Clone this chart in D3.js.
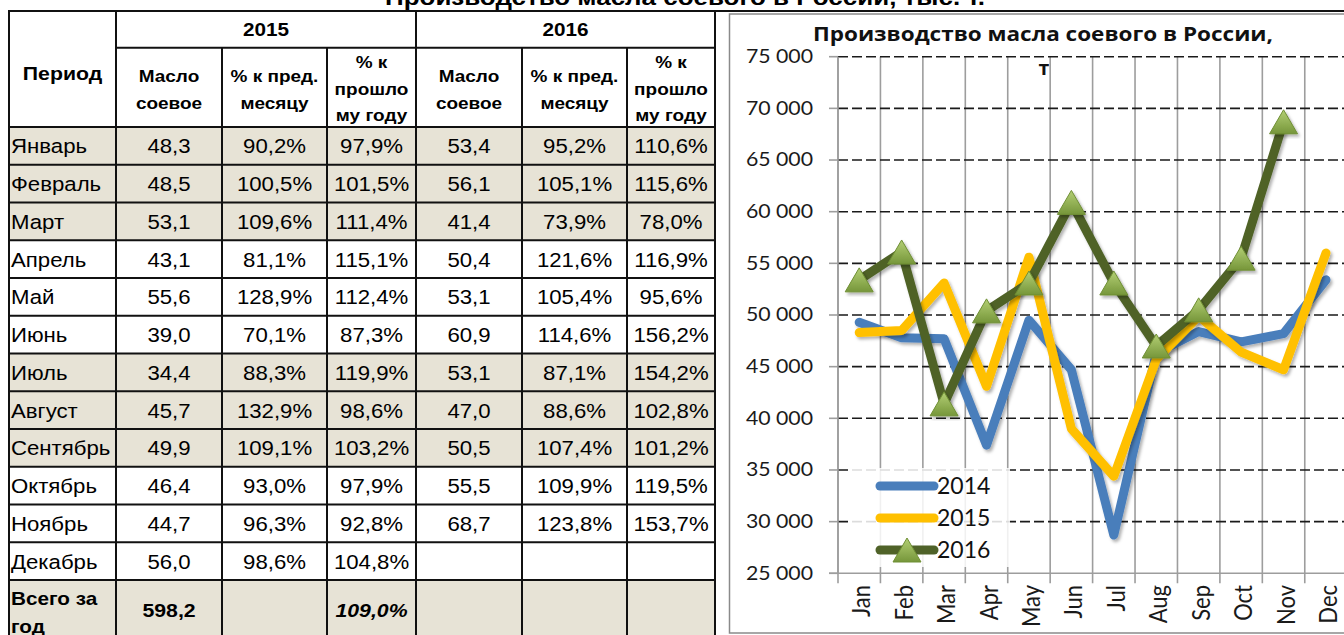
<!DOCTYPE html>
<html><head><meta charset="utf-8">
<script src="https://cdn.jsdelivr.net/npm/d3@7/dist/d3.min.js"></script>
<style>body{margin:0;background:#fff;overflow:hidden}svg{display:block}</style>
</head><body>
<svg id="c" width="1344" height="635"></svg>
<script>
// ---------- DATA ----------
const pageTitle = "Производство масла соевого в России, тыс. т.";
const chartTitle1 = "Производство масла соевого в России,";
const chartTitle2 = "т";
const periods = ["Январь","Февраль","Март","Апрель","Май","Июнь","Июль","Август","Сентябрь","Октябрь","Ноябрь","Декабрь"];
const totalLabel = ["Всего за","год"];
const yearHeaders = ["2015","2016"];
const periodHeader = "Период";
const subHeaders = [["Масло","соевое"],["% к пред.","месяцу"],["% к","прошло","му году"]];
const tbl2015Oil = ["48,3","48,5","53,1","43,1","55,6","39,0","34,4","45,7","49,9","46,4","44,7","56,0"];
const tbl2015Mom = ["90,2%","100,5%","109,6%","81,1%","128,9%","70,1%","88,3%","132,9%","109,1%","93,0%","96,3%","98,6%"];
const tbl2015Yoy = ["97,9%","101,5%","111,4%","115,1%","112,4%","87,3%","119,9%","98,6%","103,2%","97,9%","92,8%","104,8%"];
const tbl2016Oil = ["53,4","56,1","41,4","50,4","53,1","60,9","53,1","47,0","50,5","55,5","68,7",""];
const tbl2016Mom = ["95,2%","105,1%","73,9%","121,6%","105,4%","114,6%","87,1%","88,6%","107,4%","109,9%","123,8%",""];
const tbl2016Yoy = ["110,6%","115,6%","78,0%","116,9%","95,6%","156,2%","154,2%","102,8%","101,2%","119,5%","153,7%",""];
const tblTotals = ["598,2","","109,0%","","",""];

const months = ["Jan","Feb","Mar","Apr","May","Jun","Jul","Aug","Sep","Oct","Nov","Dec"];
const years = ["2014","2015","2016"];
const oil2014 = [49300,47800,47700,37400,49500,44700,28700,46300,48400,47400,48200,53400];
const oil2015 = [48300,48500,53100,43100,55600,39000,34400,45700,49900,46400,44700,56000];
const oil2016 = [53400,56100,41400,50400,53100,60900,53100,47000,50500,55500,68700];
const yDomain = [25000,75000];

// ---------- LAYOUT ----------
const svg = d3.select("#c");
const SX = 1.15;
const LINE = "#111";
const SHADE = "#e7e3d6";
const ARIAL = "'Liberation Sans', Arial, sans-serif";
const CAL = "Lato, 'Open Sans', sans-serif";

function label(parent, x, y, str, o = {}) {
  return parent.append("text")
    .attr("transform", `translate(${x},${y}) scale(${o.sx ?? SX},1)`)
    .attr("text-anchor", o.anchor || "middle")
    .attr("font-family", o.family || ARIAL)
    .attr("font-size", o.size || 19)
    .attr("font-weight", o.weight || "normal")
    .attr("font-style", o.style || "normal")
    .attr("fill", o.fill || "#000")
    .text(str);
}

// ---------- TABLE ----------
const tbl = svg.append("g");
const colEdges = [9,116,222,327,416,522,627,715];
const tTop = 11, hdrMid = 47.7, hdrBot = 127, bodyBot = 580, tblBot = 640;
const rowY = d3.scaleBand().domain(periods).range([hdrBot, bodyBot]);
const colMid = i => (colEdges[i] + colEdges[i + 1]) / 2;

periods.forEach((p, i) => {
  if (Math.floor(i / 3) % 2 === 0)
    tbl.append("rect").attr("x", colEdges[0]).attr("y", rowY(p))
      .attr("width", colEdges[7] - colEdges[0]).attr("height", rowY.bandwidth()).attr("fill", SHADE);
});
tbl.append("rect").attr("x", colEdges[0]).attr("y", bodyBot)
  .attr("width", colEdges[7] - colEdges[0]).attr("height", tblBot - bodyBot).attr("fill", SHADE);

svg.append("text").attr("x", 685).attr("y", 4.5).attr("text-anchor", "middle")
  .attr("font-family", ARIAL).attr("font-weight", "bold").attr("font-size", 22)
  .attr("textLength", 600).attr("lengthAdjust", "spacingAndGlyphs").text(pageTitle);

label(tbl, colMid(0), 80, periodHeader, { weight: "bold", size: 18.5 });
yearHeaders.forEach((h, k) => {
  label(tbl, (colEdges[1 + 3 * k] + colEdges[4 + 3 * k]) / 2, 36, h, { weight: "bold", size: 18 });
  subHeaders.forEach((lines, j) => {
    const c = 1 + 3 * k + j;
    const ys = lines.length === 2 ? [82, 108.5] : [68, 94.5, 121];
    lines.forEach((t, li) => label(tbl, colMid(c), ys[li], t, { weight: "bold", size: 16.5 }));
  });
});

const cols = [tbl2015Oil, tbl2015Mom, tbl2015Yoy, tbl2016Oil, tbl2016Mom, tbl2016Yoy];
periods.forEach((p, i) => {
  const by = rowY(p) + rowY.bandwidth() / 2 + 7.5;
  label(tbl, colEdges[0] + 2, by, p, { anchor: "start", size: 19.3 });
  cols.forEach((col, c) => { if (col[i]) label(tbl, colMid(c + 1), by, col[i], { size: 19.3 }); });
});
label(tbl, colEdges[0] + 2, 605, totalLabel[0], { anchor: "start", weight: "bold", size: 18 });
label(tbl, colEdges[0] + 2, 633, totalLabel[1], { anchor: "start", weight: "bold", size: 18 });
tblTotals.forEach((v, c) => {
  if (v) label(tbl, colMid(c + 1), 617, v, { weight: "bold", size: 18.5, style: c === 2 ? "italic" : "normal" });
});

const hl = (y, x1, x2) => tbl.append("line").attr("x1", x1).attr("x2", x2).attr("y1", y).attr("y2", y).attr("stroke", LINE).attr("stroke-width", 2);
const vl = (x, y1, y2) => tbl.append("line").attr("x1", x).attr("x2", x).attr("y1", y1).attr("y2", y2).attr("stroke", LINE).attr("stroke-width", 2);
hl(tTop, colEdges[0] - 1, 1344);
hl(hdrMid, colEdges[1], colEdges[7]);
periods.forEach(p => hl(rowY(p), colEdges[0], colEdges[7]));
hl(bodyBot, colEdges[0], colEdges[7]);
[0, 1, 4, 7].forEach(i => vl(colEdges[i], tTop, tblBot));
[2, 3, 5, 6].forEach(i => vl(colEdges[i], hdrMid, tblBot));

// ---------- CHART ----------
const ch = svg.append("g");
const defs = svg.append("defs");
const sh = defs.append("filter").attr("id", "shadow").attr("x", "-10%").attr("y", "-10%").attr("width", "130%").attr("height", "130%");
sh.append("feDropShadow").attr("dx", 2).attr("dy", 2.5).attr("stdDeviation", 1.5).attr("flood-color", "#000").attr("flood-opacity", 0.3);
const gr = defs.append("linearGradient").attr("id", "tri").attr("x1", 0).attr("x2", 0).attr("y1", 0).attr("y2", 1);
gr.append("stop").attr("offset", "0%").attr("stop-color", "#b3cf74");
gr.append("stop").attr("offset", "100%").attr("stop-color", "#76963a");

ch.append("rect").attr("x", 729.5).attr("y", 14).attr("width", 640).attr("height", 619)
  .attr("fill", "#fff").attr("stroke", "#8a8a8a").attr("stroke-width", 1.5);

ch.append("text").attr("x", 1043).attr("y", 41).attr("text-anchor", "middle")
  .attr("font-family", "'Open Sans', sans-serif").attr("font-weight", "bold").attr("font-size", 19.5)
  .attr("textLength", 460).attr("lengthAdjust", "spacingAndGlyphs").attr("fill", "#111").text(chartTitle1);
label(ch, 1044, 75, chartTitle2, { family: "'Open Sans', sans-serif", weight: "bold", size: 19.5, fill: "#111", sx: 1 });

const x = d3.scaleBand().domain(months).range([838, 1347.2]);
const y = d3.scaleLinear().domain(yDomain).range([573.3, 56.7]);
const cx = m => x(m) + x.bandwidth() / 2;
const fmt = d3.formatLocale({ decimal: ",", thousands: " ", grouping: [3], currency: ["", ""] }).format(",");
const yTicks = y.ticks(10);

months.forEach(m => {
  ch.append("line").attr("x1", x(m)).attr("x2", x(m)).attr("y1", y(yDomain[1])).attr("y2", y(yDomain[0]) + 10)
    .attr("stroke", "#9d9d9d").attr("stroke-width", 1.6);
});
yTicks.forEach(t => {
  ch.append("line").attr("x1", 829).attr("x2", 838).attr("y1", y(t)).attr("y2", y(t)).attr("stroke", "#9d9d9d").attr("stroke-width", 1.6);
  if (t > yDomain[0])
    ch.append("line").attr("x1", 838).attr("x2", 1344).attr("y1", y(t)).attr("y2", y(t))
      .attr("stroke", "#1a1a1a").attr("stroke-width", 1.6).attr("stroke-dasharray", "10,4");
  label(ch, 813, y(t) + 6.3, fmt(t), { anchor: "end", family: CAL, size: 18.5, fill: "#1a1a1a" });
});
ch.append("line").attr("x1", 838).attr("x2", 838).attr("y1", y(yDomain[1])).attr("y2", y(yDomain[0])).attr("stroke", "#9d9d9d").attr("stroke-width", 1.6);
ch.append("line").attr("x1", 829).attr("x2", 1344).attr("y1", y(yDomain[0])).attr("y2", y(yDomain[0])).attr("stroke", "#9d9d9d").attr("stroke-width", 1.6);

months.forEach(m => {
  ch.append("text").attr("transform", `translate(${cx(m) + 11},585) scale(${SX},1) rotate(-90)`)
    .attr("text-anchor", "end").attr("font-family", CAL).attr("font-size", 22).attr("fill", "#1a1a1a").text(m);
});

ch.append("rect").attr("x", 851).attr("y", 468).attr("width", 159).attr("height", 99).attr("fill", "#fff").attr("opacity", 0.85);

const series = [
  { name: years[0], values: oil2014, color: "#4a7ebb", marker: false },
  { name: years[1], values: oil2015, color: "#ffc000", marker: false },
  { name: years[2], values: oil2016, color: "#4f6228", marker: true }
];
const line = d3.line().x((d, i) => cx(months[i])).y(d => y(d));
const tri = (px, py) => `M${px},${py - 12}L${px + 14},${py + 12}L${px - 14},${py + 12}Z`;

series.forEach(s => {
  ch.append("path").attr("d", line(s.values)).attr("fill", "none").attr("stroke", s.color)
    .attr("stroke-width", 9).attr("stroke-linejoin", "round").attr("stroke-linecap", "round").attr("filter", "url(#shadow)");
  if (s.marker) {
    s.values.forEach((v, i) => {
      ch.append("path").attr("d", tri(cx(months[i]), y(v))).attr("fill", "url(#tri)")
        .attr("stroke", "#6f8f34").attr("stroke-width", 1).attr("filter", "url(#shadow)");
    });
  }
});

series.forEach((s, i) => {
  const ly = 486 + i * 32;
  ch.append("line").attr("x1", 880).attr("x2", 934).attr("y1", ly).attr("y2", ly)
    .attr("stroke", s.color).attr("stroke-width", 9).attr("stroke-linecap", "round");
  if (s.marker) ch.append("path").attr("d", tri(907, ly)).attr("fill", "url(#tri)").attr("stroke", "#6f8f34").attr("stroke-width", 1);
  label(ch, 937, ly + 7.5, s.name, { anchor: "start", family: CAL, size: 23, sx: 1, fill: "#111" });
});
</script>
</body></html>
